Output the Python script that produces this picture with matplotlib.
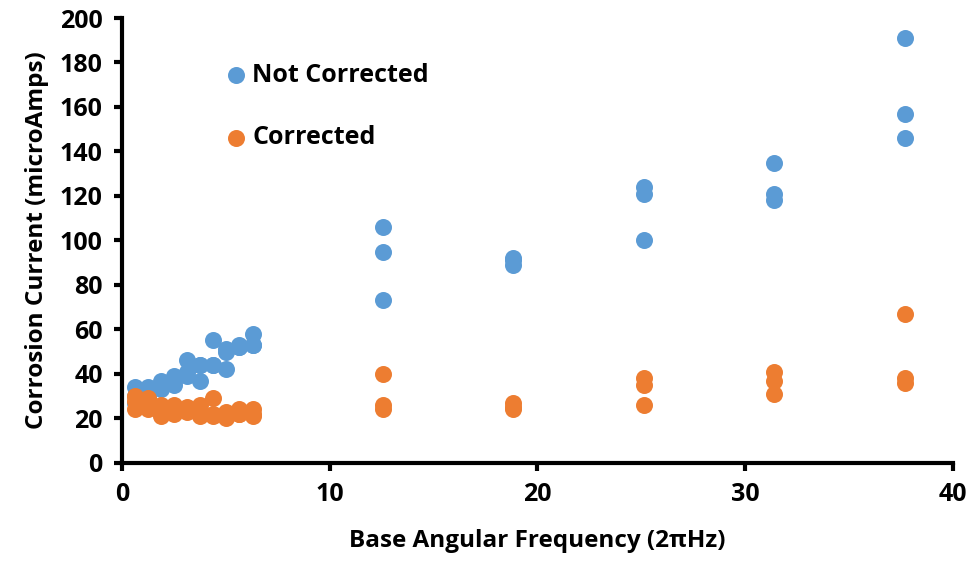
import numpy as np
import matplotlib.pyplot as plt

plt.rcParams['font.family'] = ['Open Sans', 'DejaVu Sans']
plt.rcParams['font.weight'] = 'bold'

# base angular frequency values (2*pi*f)
freq = [0.628, 1.257, 1.885, 2.513, 3.142, 3.770, 4.398, 5.027, 5.655, 6.283,
        12.566, 18.850, 25.133, 31.416, 37.699]

# three repeat measurements per frequency
not_corrected = [
    [34, 30, 27], [34, 31, 29], [37, 35, 33], [39, 37, 35], [46, 41, 39],
    [44, 44, 37], [55, 44, 44], [51, 50, 42], [53, 52, 52], [58, 53, 53],
    [106, 95, 73], [92, 91, 89], [124, 121, 100], [135, 121, 118], [191, 157, 146],
]
corrected = [
    [30, 28, 24], [29, 26, 24], [26, 23, 21], [26, 24, 22], [25, 24, 23],
    [26, 23, 21], [29, 22, 21], [23, 21, 20], [24, 22, 22], [24, 22, 21],
    [40, 26, 24], [27, 25, 24], [38, 35, 26], [41, 37, 31], [67, 38, 36],
]

x_all = np.repeat(freq, 3)
nc = np.array(not_corrected).ravel()
c = np.array(corrected).ravel()

fig = plt.figure(figsize=(9.69, 5.63), dpi=100)
ax = fig.add_axes([0.126, 0.178, 0.857, 0.79])

ax.scatter(x_all, nc, s=150, color='#5B9BD5', label='Not Corrected', zorder=3, linewidths=0)
ax.scatter(x_all, c, s=150, color='#ED7D31', label='Corrected', zorder=3, linewidths=0)

ax.set_xlim(0, 40)
ax.set_ylim(0, 200)
ax.set_xticks(range(0, 41, 10))
ax.set_yticks(range(0, 201, 20))

for side in ['top', 'right']:
    ax.spines[side].set_visible(False)
for side in ['left', 'bottom']:
    ax.spines[side].set_linewidth(3)
ax.tick_params(axis='both', direction='out', length=6, width=3, labelsize=18, pad=8)

ax.set_xlabel('Base Angular Frequency (2πHz)', fontsize=17.5, fontweight='bold', labelpad=16)
ax.set_ylabel('Corrosion Current (microAmps)', fontsize=17.5, fontweight='bold', labelpad=8)

ax.legend(loc='upper left', bbox_to_anchor=(0.08, 0.95), frameon=False, fontsize=18,
          labelspacing=1.5, handletextpad=-0.35, markerscale=1.0)

plt.savefig('out.png', dpi=100)
